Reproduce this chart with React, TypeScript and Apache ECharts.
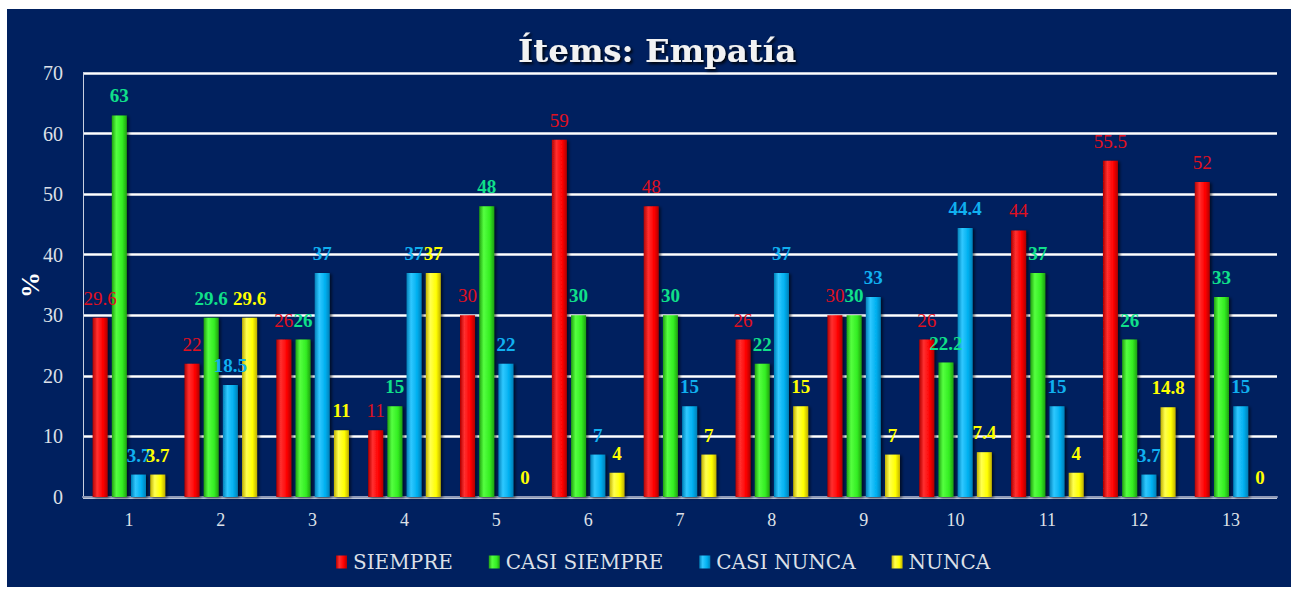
import React, { useEffect, useRef } from "react";
import * as echarts from "echarts";

const categories = ["1", "2", "3", "4", "5", "6", "7", "8", "9", "10", "11", "12", "13"];
const siempre = [29.6, 22, 26, 11, 30, 59, 48, 26, 30, 26, 44, 55.5, 52];
const casiSiempre = [63, 29.6, 26, 15, 48, 30, 30, 22, 30, 22.2, 37, 26, 33];
const casiNunca = [3.7, 18.5, 37, 37, 22, 7, 15, 37, 33, 44.4, 15, 3.7, 15];
const nunca = [3.7, 29.6, 11, 37, 0, 4, 7, 15, 7, 7.4, 4, 14.8, 0];
const seriesNames = ["SIEMPRE", "CASI SIEMPRE", "CASI NUNCA", "NUNCA"];
const yTicks = [0, 10, 20, 30, 40, 50, 60, 70];

const grad = (dark: string, light: string, mid: string) =>
  new echarts.graphic.LinearGradient(0, 0, 1, 0, [
    { offset: 0, color: dark },
    { offset: 0.3, color: light },
    { offset: 0.7, color: mid },
    { offset: 1, color: dark },
  ]);

export default function App() {
  const ref = useRef<HTMLDivElement>(null);
  useEffect(() => {
    if (!ref.current) return;
    const chart = echarts.init(ref.current, undefined, { renderer: "svg" });
    const serif = "Liberation Serif, Times New Roman, serif";
    const wideSerif = "DejaVu Serif, serif";
    const mk = (
      name: string,
      data: number[],
      fill: any,
      labelColor: string,
      weight: string
    ) => ({
      name,
      type: "bar",
      data,
      barWidth: 15,
      barGap: "28%",
      itemStyle: {
        color: fill,
        shadowBlur: 3,
        shadowColor: "rgba(0,0,0,0.6)",
        shadowOffsetX: 2,
        shadowOffsetY: 1,
      },
      label: {
        show: true,
        position: "top",
        distance: 10,
        color: labelColor,
        fontFamily: serif,
        fontSize: 19,
        fontWeight: weight,
      },
    });
    chart.setOption({
      animation: false,
      backgroundColor: "#00205f",
      title: {
        text: "Ítems: Empatía",
        left: 506,
        top: 20,
        padding: 5,
        textStyle: {
          color: "#f2f2f2",
          fontFamily: wideSerif,
          fontSize: 32.5,
          fontWeight: "bold",
          textShadowColor: "rgba(0,0,0,0.9)",
          textShadowBlur: 3,
          textShadowOffsetX: 2,
          textShadowOffsetY: 2,
        },
      },
      legend: {
        bottom: 10,
        left: 324,
        itemWidth: 11,
        itemHeight: 13,
        itemGap: 36,
        icon: "rect",
        data: seriesNames,
        textStyle: { color: "#dde0e8", fontFamily: wideSerif, fontSize: 20, padding: [0, 0, 0, 1] },
      },
      grid: { left: 76, right: 14, top: 64, bottom: 90, containLabel: false, outerBoundsMode: "none" },
      xAxis: {
        type: "category",
        data: categories,
        axisLine: { lineStyle: { color: "#8f9ab8", width: 2 } },
        axisTick: { show: false },
        axisLabel: { color: "#dde0e8", fontFamily: serif, fontSize: 18, margin: 14 },
      },
      yAxis: {
        type: "value",
        min: yTicks[0],
        max: yTicks[yTicks.length - 1],
        interval: 10,
        name: "%",
        nameLocation: "middle",
        nameGap: 40,
        nameMoveOverlap: false,
        nameRotate: 90,
        nameTextStyle: { color: "#ffffff", fontFamily: serif, fontSize: 26, fontWeight: "bold" },
        axisLine: { show: true, lineStyle: { color: "#c8cfe0", width: 1 } },
        axisTick: { show: false },
        axisLabel: { color: "#dde0e8", fontFamily: serif, fontSize: 20, margin: 20 },
        splitLine: { lineStyle: { color: "#ffffff", width: 2.5 } },
      },
      series: [
        mk(seriesNames[0], siempre, grad("#b00000", "#ff3030", "#ff0000"), "#e01020", "normal"),
        mk(seriesNames[1], casiSiempre, grad("#20a010", "#55ff40", "#33ee22"), "#10e08a", "bold"),
        mk(seriesNames[2], casiNunca, grad("#0080b8", "#30c8ff", "#00b0f0"), "#10b0f0", "bold"),
        mk(seriesNames[3], nunca, grad("#c0b000", "#ffff50", "#ffff00"), "#ffff00", "bold"),
      ],
    });
    return () => chart.dispose();
  }, []);
  return (
    <div style={{ position: "absolute", left: 0, top: 0, width: 1299, height: 591, background: "#ffffff" }}>
      <div ref={ref} style={{ position: "absolute", left: 7, top: 9, width: 1284, height: 578 }} />
    </div>
  );
}
